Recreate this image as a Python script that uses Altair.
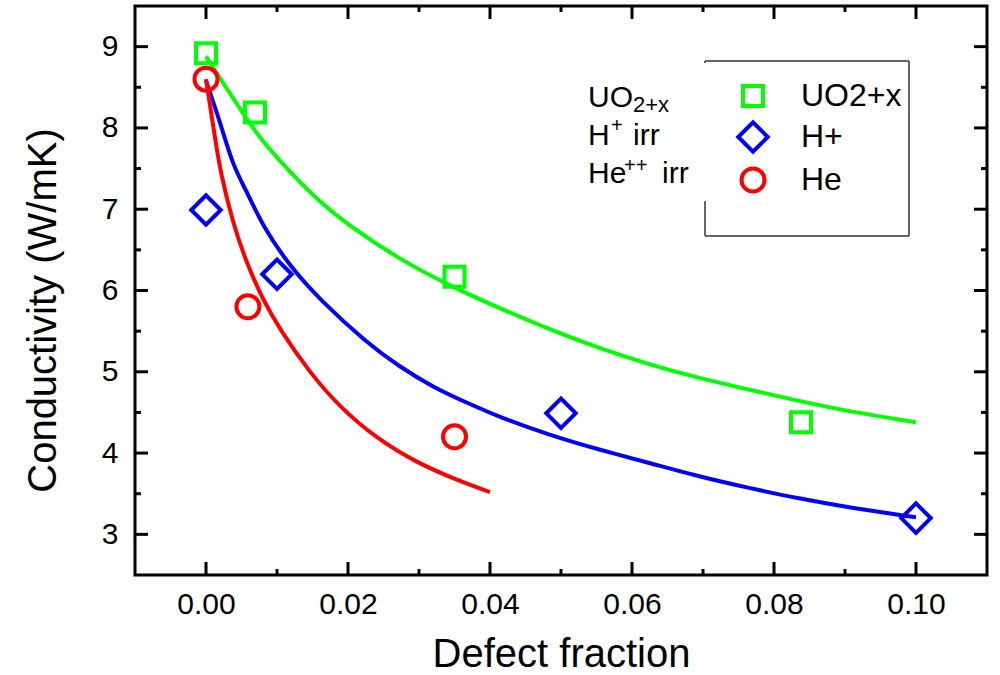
import altair as alt
import pandas as pd

# ---------------- data ----------------
series_names = ["UO2+x", "H+", "He"]
series_colors = ["#00FF00", "#0000FF", "#FF0000"]
series_shapes = ["square", "diamond", "circle"]
series_sizes = [400, 870, 529]

uo_x = [0.0, 0.0069, 0.035, 0.0838]
uo_y = [8.92, 8.19, 6.17, 4.38]
h_x = [0.0, 0.010, 0.050, 0.100]
h_y = [6.99, 6.20, 4.49, 3.20]
he_x = [0.0, 0.0059, 0.035]
he_y = [8.60, 5.80, 4.20]

uo_fit_x = [0.0, 0.0057, 0.008, 0.0118, 0.016, 0.0203, 0.0273, 0.0343, 0.0414, 0.0484,
            0.0554, 0.0624, 0.0695, 0.0765, 0.0835, 0.0906, 0.100]
uo_fit_y = [8.88, 8.11, 7.83, 7.46, 7.09, 6.79, 6.38, 6.06, 5.78, 5.52,
            5.29, 5.09, 4.92, 4.78, 4.64, 4.51, 4.38]
h_fit_x = [0.0, 0.002, 0.0038, 0.0058, 0.008, 0.0118, 0.016, 0.0226, 0.0273,
           0.032, 0.0367, 0.0414, 0.0484, 0.0554, 0.0624, 0.0695, 0.0765, 0.0835, 0.0906, 0.100]
h_fit_y = [8.58, 8.07, 7.53, 7.21, 6.79, 6.30, 5.89, 5.36, 5.06,
           4.81, 4.62, 4.44, 4.22, 4.04, 3.88, 3.71, 3.57, 3.44, 3.33, 3.21]
he_fit_x = [0.0, 0.0013, 0.002, 0.0038, 0.0058, 0.008, 0.0104, 0.0146, 0.0188, 0.024,
            0.0297, 0.0353, 0.040]
he_fit_y = [8.60, 7.86, 7.47, 6.82, 6.32, 5.89, 5.52, 4.99, 4.57, 4.18,
            3.88, 3.67, 3.52]

x_major = [0.0, 0.02, 0.04, 0.06, 0.08, 0.10]
x_minor = [0.01, 0.03, 0.05, 0.07, 0.09]
y_major = [3, 4, 5, 6, 7, 8, 9]
y_minor = [3.5, 4.5, 5.5, 6.5, 7.5, 8.5]

# ---------------- tables ----------------
pts = pd.concat([
    pd.DataFrame({"x": uo_x, "y": uo_y, "s": series_names[0]}),
    pd.DataFrame({"x": h_x, "y": h_y, "s": series_names[1]}),
    pd.DataFrame({"x": he_x, "y": he_y, "s": series_names[2]}),
])
fits = pd.concat([
    pd.DataFrame({"x": uo_fit_x, "y": uo_fit_y, "s": series_names[0], "c": series_colors[0]}),
    pd.DataFrame({"x": h_fit_x, "y": h_fit_y, "s": series_names[1], "c": series_colors[1]}),
    pd.DataFrame({"x": he_fit_x, "y": he_fit_y, "s": series_names[2], "c": series_colors[2]}),
])

W, H = 852, 569
FONT = "Liberation Sans"

xscale = alt.Scale(domain=[-0.01, 0.11], nice=False, zero=False)
yscale = alt.Scale(domain=[2.5, 9.5], nice=False, zero=False)
xaxis = alt.Axis(values=x_major, format=".2f", ticks=False, domain=False, grid=False,
                 labelFont=FONT, labelFontSize=30, labelColor="black", labelPadding=14,
                 title="Defect fraction", titleFont=FONT, titleFontSize=40,
                 titleFontWeight="normal", titleColor="black", titleY=91,
                 titleBaseline="alphabetic")
yaxis = alt.Axis(values=y_major, format="d", ticks=False, domain=False, grid=False,
                 labelFont=FONT, labelFontSize=30, labelColor="black", labelPadding=17,
                 title="Conductivity (W/mK)", titleFont=FONT, titleFontSize=40,
                 titleFontWeight="normal", titleColor="black", titleX=-80, titleY=304,
                 titleBaseline="alphabetic")
X = alt.X("x:Q", scale=xscale, axis=xaxis)
Y = alt.Y("y:Q", scale=yscale, axis=yaxis)

lines = alt.Chart(fits).mark_line(strokeWidth=4, interpolate="basis").encode(
    x=X, y=Y, detail="s:N", color=alt.Color("c:N", scale=None)
)

points = alt.Chart(pts).mark_point(filled=False, strokeWidth=4, opacity=1).encode(
    x=X, y=Y,
    color=alt.Color("s:N", scale=alt.Scale(domain=series_names, range=series_colors),
                    legend=alt.Legend(orient="none", legendX=601, legendY=74, title=None,
                                      labelFont=FONT, labelFontSize=32, labelColor="black",
                                      labelOffset=31, rowPadding=0, padding=0,
                                      symbolStrokeWidth=4)),
    shape=alt.Shape("s:N", scale=alt.Scale(domain=series_names, range=series_shapes)),
    size=alt.Size("s:N", scale=alt.Scale(type="ordinal", domain=series_names, range=series_sizes)),
)

# ticks (inward, on all four sides)
def xticks(vals, length):
    df = pd.DataFrame({"x": vals})
    bot = alt.Chart(df).mark_rule(color="black", strokeWidth=3).encode(
        x=X, y=alt.value(H), y2=alt.value(H - length))
    top = alt.Chart(df).mark_rule(color="black", strokeWidth=3).encode(
        x=X, y=alt.value(0), y2=alt.value(length))
    return [bot, top]

def yticks(vals, length):
    df = pd.DataFrame({"y": vals})
    left = alt.Chart(df).mark_rule(color="black", strokeWidth=3).encode(
        y=Y, x=alt.value(0), x2=alt.value(length))
    right = alt.Chart(df).mark_rule(color="black", strokeWidth=3).encode(
        y=Y, x=alt.value(W), x2=alt.value(W - length))
    return [left, right]

tick_layers = xticks(x_major, 13) + xticks(x_minor, 6) + yticks(y_major, 13) + yticks(y_minor, 6)

# legend frame (left edge partly hidden by the annotation text)
def seg(x1, x2, y1, y2):
    return alt.Chart(pd.DataFrame({"k": [0]})).mark_rule(color="#333333", strokeWidth=1.5).encode(
        x=alt.value(x1), x2=alt.value(x2), y=alt.value(y1), y2=alt.value(y2))

bx0, bx1, by0, by1 = 570, 774, 55, 230
frame = [seg(bx0, bx1, by0, by0), seg(bx1, bx1, by0, by1), seg(bx0, bx1, by1, by1),
         seg(bx0, bx0, 195, by1), seg(bx0, bx0, by0, 57)]

# annotation text with sub/superscripts
def txt(s, x, y, size):
    return alt.Chart(pd.DataFrame({"k": [0]})).mark_text(
        text=s, font=FONT, fontSize=size, color="black", align="left", baseline="alphabetic"
    ).encode(x=alt.value(x), y=alt.value(y))

notes = [
    txt("UO", 453, 101, 30), txt("2+x", 498, 106, 22),
    txt("H", 453, 139, 30), txt("+", 476, 126, 20), txt("irr", 498, 139, 30),
    txt("He", 453, 177, 30), txt("++", 489, 166, 20), txt("irr", 527, 177, 30),
]

chart = alt.layer(lines, points, *tick_layers, *frame, *notes).properties(
    width=W, height=H,
    autosize=alt.AutoSizeParams(type="none"),
    padding={"left": 135, "top": 6, "right": 13, "bottom": 100},
    background="white",
).configure_view(stroke="black", strokeWidth=3)

chart.save("out.html", embed_options={"renderer": "svg", "actions": False})
